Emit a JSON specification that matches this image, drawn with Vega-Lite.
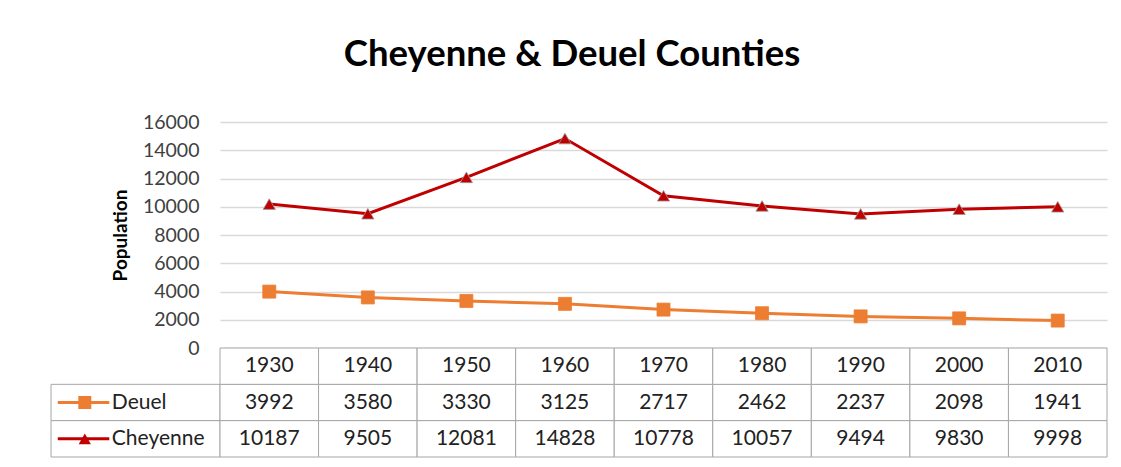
{
  "$schema": "https://vega.github.io/schema/vega-lite/v6.json",
  "padding": {"left": 50, "top": 37, "right": 15, "bottom": 6},
  "background": "white",
  "config": {"font": "Lato", "view": {"stroke": null}},
  "title": {"text": "Cheyenne & Deuel Counties", "fontSize": 36.5, "fontWeight": "bold", "color": "#000000", "anchor": "middle", "offset": 38.5, "dx": -7},
  "datasets": {
    "pop": [
      {"year": 1930, "series": "Deuel", "value": 3992},
      {"year": 1940, "series": "Deuel", "value": 3580},
      {"year": 1950, "series": "Deuel", "value": 3330},
      {"year": 1960, "series": "Deuel", "value": 3125},
      {"year": 1970, "series": "Deuel", "value": 2717},
      {"year": 1980, "series": "Deuel", "value": 2462},
      {"year": 1990, "series": "Deuel", "value": 2237},
      {"year": 2000, "series": "Deuel", "value": 2098},
      {"year": 2010, "series": "Deuel", "value": 1941},
      {"year": 1930, "series": "Cheyenne", "value": 10187},
      {"year": 1940, "series": "Cheyenne", "value": 9505},
      {"year": 1950, "series": "Cheyenne", "value": 12081},
      {"year": 1960, "series": "Cheyenne", "value": 14828},
      {"year": 1970, "series": "Cheyenne", "value": 10778},
      {"year": 1980, "series": "Cheyenne", "value": 10057},
      {"year": 1990, "series": "Cheyenne", "value": 9494},
      {"year": 2000, "series": "Cheyenne", "value": 9830},
      {"year": 2010, "series": "Cheyenne", "value": 9998}
    ]
  },
  "data": {"name": "pop"},
  "bounds": "flush",
  "spacing": 0,
  "columns": 2,
  "concat": [
    {
      "width": 169,
      "height": 226,
      "mark": {"type": "point", "opacity": 0},
      "encoding": {}
    },
    {
      "width": 887,
      "height": 226,
      "encoding": {
        "x": {"field": "year", "type": "ordinal", "axis": null, "scale": {"type": "point", "padding": 0.5}},
        "y": {
          "field": "value", "type": "quantitative",
          "scale": {"domain": [0, 16000], "nice": false},
          "axis": {
            "values": [0, 2000, 4000, 6000, 8000, 10000, 12000, 14000, 16000],
            "format": "d", "domain": false, "ticks": false,
            "labelPadding": 21, "labelFontSize": 19.5, "labelColor": "#404040",
            "gridColor": "#d9d9d9", "gridWidth": 1.3,
            "title": "Population", "titleFontSize": 19, "titleFontWeight": "bold",
            "titleColor": "#000000", "titlePadding": 12
          }
        },
        "color": {"field": "series", "type": "nominal", "scale": {"domain": ["Deuel", "Cheyenne"], "range": ["#ED7D31", "#C00000"]}, "legend": null}
      },
      "layer": [
        {"mark": {"type": "line", "strokeWidth": 3}},
        {
          "mark": {"type": "point", "filled": true, "opacity": 1, "strokeWidth": 0.8},
          "encoding": {
            "shape": {"field": "series", "type": "nominal", "scale": {"domain": ["Deuel", "Cheyenne"], "range": ["square", "triangle-up"]}, "legend": null},
            "size": {"field": "series", "type": "nominal", "scale": {"domain": ["Deuel", "Cheyenne"], "range": [169, 150]}, "legend": null},
            "stroke": {"field": "series", "type": "nominal", "scale": {"domain": ["Deuel", "Cheyenne"], "range": ["#ED7D31", "#999999"]}, "legend": null}
          }
        }
      ]
    },
    {
      "width": 169,
      "height": 109,
      "transform": [{"filter": "datum.year === 1930"}],
      "encoding": {
        "y": {"field": "series", "type": "nominal", "scale": {"type": "band", "domain": ["year", "Deuel", "Cheyenne"], "paddingInner": 0, "paddingOuter": 0}, "axis": null}
      },
      "layer": [
        {"mark": {"type": "rect", "fill": "white", "stroke": "#a6a6a6", "strokeWidth": 1}},
        {
          "mark": {"type": "rule", "strokeWidth": 3},
          "encoding": {
            "x": {"datum": 0.04, "type": "quantitative", "scale": {"domain": [0, 1], "nice": false}, "axis": null},
            "x2": {"datum": 0.345},
            "color": {"field": "series", "type": "nominal", "scale": {"domain": ["Deuel", "Cheyenne"], "range": ["#ED7D31", "#C00000"]}, "legend": null}
          }
        },
        {
          "mark": {"type": "point", "filled": true, "opacity": 1},
          "encoding": {
            "x": {"datum": 0.2, "type": "quantitative"},
            "color": {"field": "series", "type": "nominal", "legend": null},
            "shape": {"field": "series", "type": "nominal", "scale": {"domain": ["Deuel", "Cheyenne"], "range": ["square", "triangle-up"]}, "legend": null},
            "size": {"field": "series", "type": "nominal", "scale": {"domain": ["Deuel", "Cheyenne"], "range": [110, 120]}, "legend": null}
          }
        },
        {
          "mark": {"type": "text", "align": "left", "fontSize": 21, "color": "#222222"},
          "encoding": {
            "x": {"datum": 0.36, "type": "quantitative"},
            "text": {"field": "series", "type": "nominal"}
          }
        }
      ]
    },
    {
      "width": 887,
      "height": 109,
      "encoding": {
        "x": {"field": "year", "type": "ordinal", "axis": null, "scale": {"type": "band", "paddingInner": 0, "paddingOuter": 0}}
      },
      "layer": [
        {
          "mark": {"type": "rect", "fill": "white", "stroke": "#a6a6a6", "strokeWidth": 1},
          "encoding": {
            "y": {"field": "series", "type": "nominal", "scale": {"type": "band", "domain": ["year", "Deuel", "Cheyenne"], "paddingInner": 0, "paddingOuter": 0}, "axis": null}
          }
        },
        {
          "transform": [{"filter": "datum.series === 'Deuel'"}],
          "mark": {"type": "rect", "fill": "white", "stroke": "#a6a6a6", "strokeWidth": 1},
          "encoding": {"y": {"datum": "year", "type": "nominal"}}
        },
        {
          "mark": {"type": "text", "fontSize": 21, "color": "#222222"},
          "encoding": {
            "y": {"field": "series", "type": "nominal"},
            "text": {"field": "value", "type": "quantitative", "format": "d"}
          }
        },
        {
          "transform": [{"filter": "datum.series === 'Deuel'"}],
          "mark": {"type": "text", "fontSize": 21, "color": "#222222"},
          "encoding": {
            "y": {"datum": "year", "type": "nominal"},
            "text": {"field": "year", "type": "nominal"}
          }
        }
      ]
    }
  ]
}
